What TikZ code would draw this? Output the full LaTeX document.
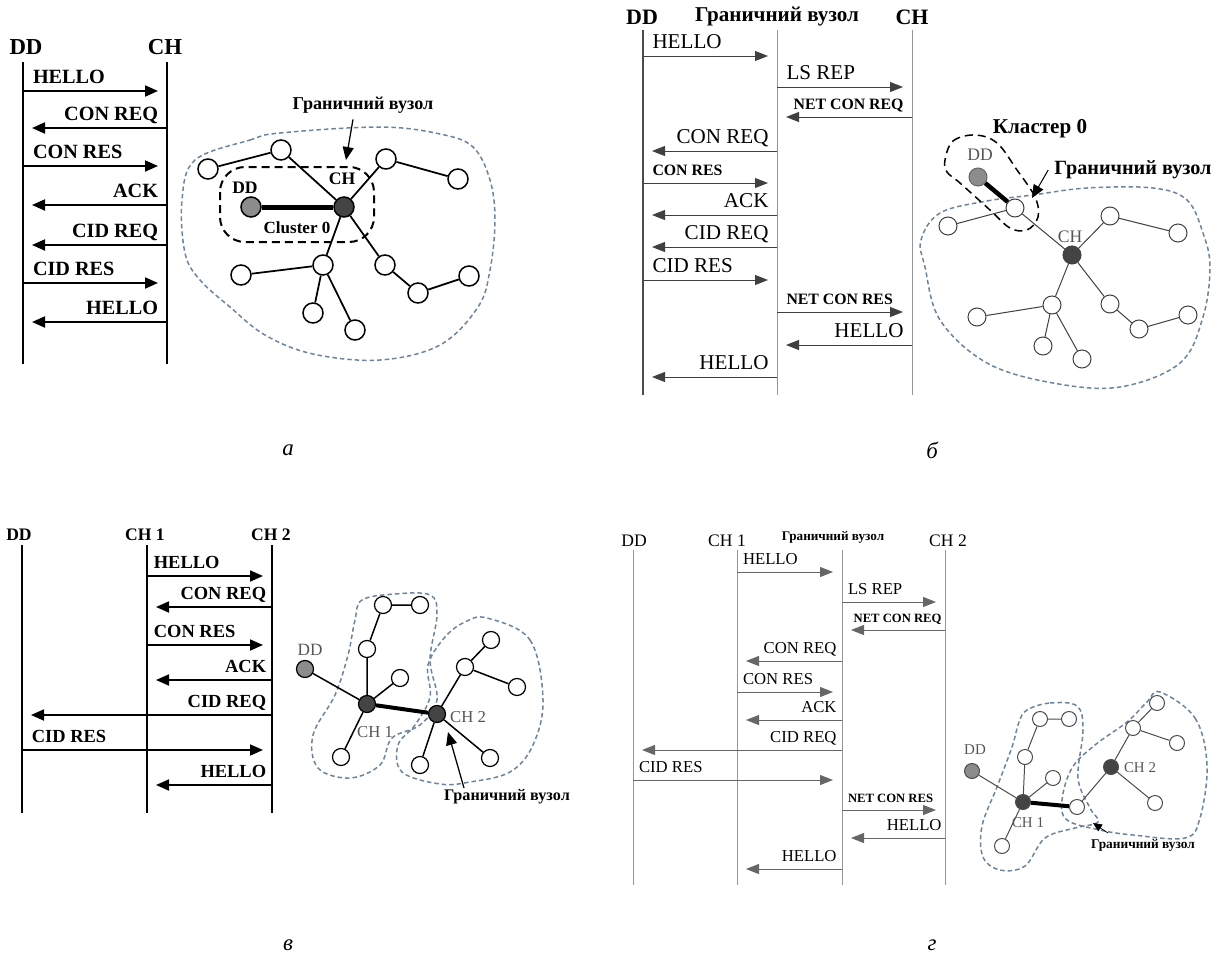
\documentclass[tikz,border=0pt]{standalone}
\usepackage{fontspec}
\setmainfont{Liberation Serif}
\usetikzlibrary{arrows.meta}

\definecolor{blobc}{RGB}{110,132,155}
\definecolor{ddfill}{RGB}{140,140,140}
\definecolor{chfill}{RGB}{68,68,68}
\definecolor{linegr}{RGB}{150,150,150}
\definecolor{txtgr}{RGB}{85,85,85}

\tikzset{
  lifeA/.style={line width=0.4mm},
  lifeB/.style={line width=0.2mm,linegr},
  msgA/.style={line width=0.4mm,-{Triangle[length=2.6mm,width=2.2mm]},shorten >=1.8mm},
  msgB/.style={line width=0.2mm,black!75,-{Triangle[length=2.6mm,width=2mm]},shorten >=1.8mm},
  lblR/.style={anchor=base west,inner sep=0,xshift=1.8mm,yshift=1.6mm,text=black},
  lblL/.style={anchor=base east,inner sep=0,xshift=-1.6mm,yshift=1.6mm,text=black},
  fA/.style={font=\fontsize{11.5}{13}\selectfont\bfseries},
  fHA/.style={font=\fontsize{13}{15}\selectfont\bfseries},
  fB/.style={font=\fontsize{12}{14}\selectfont},
  fBs/.style={font=\fontsize{9}{10}\selectfont\bfseries},
  fC/.style={font=\fontsize{10.5}{12}\selectfont\bfseries},
  fD/.style={font=\fontsize{9.5}{11}\selectfont},
  fDs/.style={font=\fontsize{7.2}{8}\selectfont\bfseries},
  vz/.style={circle,draw,fill=white,inner sep=0,minimum size=4mm,line width=0.3mm},
  vzB/.style={vz,minimum size=3.6mm,line width=0.2mm,draw=black!75},
  vzC/.style={vz,minimum size=3.4mm,line width=0.25mm},
  vzD/.style={vz,minimum size=3mm,line width=0.2mm,draw=black!70},
  blob/.style={blobc,line width=0.3mm,dash pattern=on 0.9mm off 0.6mm},
  clus/.style={line width=0.4mm,dash pattern=on 1.6mm off 1mm},
  ptr/.style={line width=0.25mm,-{Triangle[length=2.6mm,width=2.2mm]}},
  capt/.style={font=\fontsize{13}{15}\selectfont\itshape}
}

\begin{document}
\begin{tikzpicture}[x=0.2mm,y=-0.2mm]
  \useasboundingbox (0,0) rectangle (1225,955);

  % ----- а: sequence
  \node[fHA] (aDDh) at (26,47) {DD};
  \node[fHA] (aCHh) at (165,47) {CH};
  \coordinate (aDD) at (23,62);  \coordinate (aDDe) at (23,364);
  \coordinate (aCH) at (167,62); \coordinate (aCHe) at (167,364);
  \draw[lifeA] (aDD)--(aDDe) (aCH)--(aCHe);
  \foreach \y/\t in {91/HELLO,166/CON RES,283/CID RES}
    \draw[msgA] (aDD|-0,\y)--(aCH|-0,\y) node[at start,lblR,fA]{\t};
  \foreach \y/\t in {128/CON REQ,205/ACK,245/CID REQ,322/HELLO}
    \draw[msgA] (aCH|-0,\y)--(aDD|-0,\y) node[at start,lblL,fA]{\t};

  % ----- а: network
  \draw[blob] plot[smooth cycle,tension=0.6] coordinates {(195,160) (250,140) (280,133) (380,127) (440,134) (473,147) (490,180) (495,220) (490,270) (478,307) (440,345) (380,360) (313,354) (265,335) (230,307) (200,280) (185,253) (182,200)};
  \draw[clus,rounded corners=5mm] (220,167) rectangle (374,242);
  \node[vz,fill=ddfill] (aD) at (251,207) {};
  \node[vz,fill=chfill] (aC) at (344,207) {};
  \node[vz] (a1) at (208,169) {};
  \node[vz] (a2) at (281,150) {};
  \node[vz] (a3) at (386,159) {};
  \node[vz] (a4) at (458,179) {};
  \node[vz] (a5) at (323,265) {};
  \node[vz] (a6) at (241,275) {};
  \node[vz] (a7) at (385,265) {};
  \node[vz] (a8) at (418,293) {};
  \node[vz] (a9) at (469,276) {};
  \node[vz] (a10) at (313,313) {};
  \node[vz] (a11) at (355,330) {};
  \draw[line width=0.35mm] (a1)--(a2) (a2)--(aC) (aC)--(a3) (a3)--(a4) (aC)--(a5) (a5)--(a6)
    (a5)--(a10) (a5)--(a11) (aC)--(a7) (a7)--(a8) (a8)--(a9);
  \draw[line width=1mm] (aD)--(aC);
  \node[font=\fontsize{10}{12}\selectfont\bfseries] (aDl) at (245,188) {DD};
  \node[font=\fontsize{10}{12}\selectfont\bfseries] (aCl) at (342,179) {CH};
  \node[font=\fontsize{9.7}{11}\selectfont\bfseries] (aCll) at (297,228) {Cluster 0};
  \node[font=\fontsize{10.3}{12}\selectfont\bfseries] (aGr) at (363,105) {Граничний вузол};
  \coordinate (aGrt) at (346,160);
  \draw[ptr] (aGr.south)++(-2mm,0) coordinate (aGrs) (aGrs)--(aGrt);
  \node[capt] (capA) at (288,450) {а};

  % ----- б: sequence
  \node[font=\fontsize{12.5}{14}\selectfont\bfseries] (bDDh) at (642,17) {DD};
  \node[font=\fontsize{12}{14}\selectfont\bfseries] (bGRh) at (777,17) {Граничний вузол};
  \node[font=\fontsize{12.5}{14}\selectfont\bfseries] (bCHh) at (912,17) {CH};
  \coordinate (bDD) at (643,30); \coordinate (bDDe) at (643,395);
  \coordinate (bGR) at (777,30); \coordinate (bGRe) at (777,395);
  \coordinate (bCH) at (912,30); \coordinate (bCHe) at (912,395);
  \draw[line width=0.3mm,black!70] (bDD)--(bDDe);
  \draw[lifeB] (bGR)--(bGRe) (bCH)--(bCHe);
  \foreach \y/\t/\f in {56/HELLO/fB,183/CON RES/fBs,280/CID RES/fB}
    \draw[msgB] (bDD|-0,\y)--(bGR|-0,\y) node[at start,lblR,\f]{\t};
  \foreach \y/\t/\f in {87/LS REP/fB,312/NET CON RES/fBs}
    \draw[msgB] (bGR|-0,\y)--(bCH|-0,\y) node[at start,lblR,\f]{\t};
  \foreach \y/\t/\f in {117/NET CON REQ/fBs,345/HELLO/fB}
    \draw[msgB] (bCH|-0,\y)--(bGR|-0,\y) node[at start,lblL,\f]{\t};
  \foreach \y/\t/\f in {151/CON REQ/fB,215/ACK/fB,247/CID REQ/fB,377/HELLO/fB}
    \draw[msgB] (bGR|-0,\y)--(bDD|-0,\y) node[at start,lblL,\f]{\t};

  % ----- б: network
  \draw[blob] plot[smooth cycle,tension=0.6] coordinates {(940,213) (987,201) (1033,195) (1087,188) (1153,188) (1187,200) (1203,233) (1210,267) (1203,317) (1180,363) (1120,387) (1053,383) (987,363) (940,320) (925,267) (921,240)};
  \draw[clus,line width=0.3mm] plot[smooth cycle,tension=0.6] coordinates {(945,160) (953,141) (975,135) (997,143) (1017,170) (1035,197) (1038,217) (1027,230) (1010,228) (990,210) (960,183) (947,172)};
  \node[vzB,fill=ddfill,draw=black!60] (bD) at (978,177) {};
  \node[vzB] (bB) at (1015,208) {};
  \node[vzB,fill=chfill] (bC) at (1072,255) {};
  \node[vzB] (b1) at (948,226) {};
  \node[vzB] (b3) at (1110,216) {};
  \node[vzB] (b4) at (1178,233) {};
  \node[vzB] (b5) at (1052,305) {};
  \node[vzB] (b6) at (977,317) {};
  \node[vzB] (b7) at (1110,304) {};
  \node[vzB] (b8) at (1139,329) {};
  \node[vzB] (b9) at (1188,315) {};
  \node[vzB] (b10) at (1043,346) {};
  \node[vzB] (b11) at (1082,359) {};
  \draw[line width=0.2mm,black!75] (bB)--(b1) (bB)--(bC) (bC)--(b3) (b3)--(b4) (bC)--(b5) (b5)--(b6)
    (b5)--(b10) (b5)--(b11) (bC)--(b7) (b7)--(b8) (b8)--(b9);
  \draw[line width=0.9mm] (bD)--(bB);
  \node[font=\fontsize{12}{14}\selectfont\bfseries] (bCl) at (1040,129) {Кластер 0};
  \node[font=\fontsize{11.5}{13}\selectfont\bfseries] (bGr) at (1133,170) {Граничний вузол};
  \node[font=\fontsize{10}{12}\selectfont,txtgr] (bDl) at (980,155) {DD};
  \node[font=\fontsize{10}{12}\selectfont,txtgr] (bCHl) at (1070,237) {CH};
  \coordinate (bGrt) at (1032,198);
  \draw[ptr,line width=0.2mm] (bGr.west)--(bGrt);
  \node[capt] (capB) at (932,450) {б};

  % ----- в: sequence
  \node[font=\fontsize{10}{12}\selectfont\bfseries] (vDDh) at (19,535) {DD};
  \node[font=\fontsize{10}{12}\selectfont\bfseries] (vC1h) at (145,535) {CH 1};
  \node[font=\fontsize{10}{12}\selectfont\bfseries] (vC2h) at (271,535) {CH 2};
  \coordinate (vDD) at (22,545); \coordinate (vDDe) at (22,813);
  \coordinate (vC1) at (147,545); \coordinate (vC1e) at (147,813);
  \coordinate (vC2) at (272,545); \coordinate (vC2e) at (272,813);
  \draw[lifeA,line width=0.35mm] (vDD)--(vDDe) (vC1)--(vC1e) (vC2)--(vC2e);
  \foreach \y/\t in {576/HELLO,645/CON RES}
    \draw[msgA,line width=0.35mm] (vC1|-0,\y)--(vC2|-0,\y) node[at start,lblR,fC,xshift=-0.6mm]{\t};
  \draw[msgA,line width=0.35mm] (vDD|-0,750)--(vC2|-0,750) node[at start,lblR,fC]{CID RES};
  \foreach \y/\t in {607/CON REQ,680/ACK,785/HELLO}
    \draw[msgA,line width=0.35mm] (vC2|-0,\y)--(vC1|-0,\y) node[at start,lblL,fC,xshift=0.6mm]{\t};
  \draw[msgA,line width=0.35mm] (vC2|-0,715)--(vDD|-0,715) node[at start,lblL,fC,xshift=0.6mm]{CID REQ};

  % ----- в: network
  \draw[blob] plot[smooth cycle,tension=0.6] coordinates {(362,600) (395,594) (430,595) (437,615) (430,660) (437,700) (420,725) (392,738) (380,765) (350,778) (318,768) (313,735) (335,695) (348,655) (355,620)};
  \draw[blob] plot[smooth cycle,tension=0.6] coordinates {(487,618) (530,640) (543,700) (533,745) (510,772) (470,782) (440,784) (402,772) (398,745) (415,725) (430,697) (428,665) (445,637) (465,622)};
  \node[vzC,fill=ddfill] (vD) at (305,669) {};
  \node[vzC,fill=chfill] (vC1n) at (367,704) {};
  \node[vzC,fill=chfill] (vC2n) at (437,714) {};
  \node[vzC] (va1) at (383,605) {};
  \node[vzC] (va2) at (420,605) {};
  \node[vzC] (va3) at (367,649) {};
  \node[vzC] (va4) at (400,678) {};
  \node[vzC] (va5) at (341,757) {};
  \node[vzC] (vb1) at (491,640) {};
  \node[vzC] (vb2) at (465,667) {};
  \node[vzC] (vb3) at (517,687) {};
  \node[vzC] (vb4) at (490,758) {};
  \node[vzC] (vb5) at (420,765) {};
  \draw[line width=0.3mm] (va1)--(va2) (va1)--(va3) (va3)--(vC1n) (vD)--(vC1n) (vC1n)--(va4) (vC1n)--(va5)
    (vC2n)--(vb2) (vb2)--(vb1) (vb2)--(vb3) (vC2n)--(vb4) (vC2n)--(vb5);
  \draw[line width=0.8mm] (vC1n)--(vC2n);
  \node[font=\fontsize{9.8}{11}\selectfont,txtgr] (vDl) at (310,650) {DD};
  \node[font=\fontsize{9.5}{11}\selectfont,txtgr] (vC1l) at (375,732) {CH 1};
  \node[font=\fontsize{9.5}{11}\selectfont,txtgr] (vC2l) at (468,717) {CH 2};
  \node[font=\fontsize{9.2}{11}\selectfont\bfseries] (vGr) at (507,797) {Граничний вузол};
  \coordinate (vGrt) at (448,732);
  \draw[ptr,line width=0.25mm] (464,788) coordinate (vGrs) (vGrs)--(vGrt);
  \node[capt] (capV) at (288,945) {в};

  % ----- г: sequence
  \node[font=\fontsize{10}{12}\selectfont] (gDDh) at (634,541) {DD};
  \node[font=\fontsize{10}{12}\selectfont] (gC1h) at (727,541) {CH 1};
  \node[font=\fontsize{7.5}{9}\selectfont\bfseries] (gGRh) at (833,537) {Граничний вузол};
  \node[font=\fontsize{10}{12}\selectfont] (gC2h) at (948,541) {CH 2};
  \coordinate (gDD) at (633,550); \coordinate (gDDe) at (633,885);
  \coordinate (gC1) at (737,550); \coordinate (gC1e) at (737,885);
  \coordinate (gGR) at (842,550); \coordinate (gGRe) at (842,885);
  \coordinate (gC2) at (945,550); \coordinate (gC2e) at (945,885);
  \draw[lifeB] (gDD)--(gDDe) (gC1)--(gC1e) (gGR)--(gGRe) (gC2)--(gC2e);
  \foreach \y/\t in {572/HELLO,692/CON RES}
    \draw[msgB,black!60] (gC1|-0,\y)--(gGR|-0,\y) node[at start,lblR,fD,xshift=-0.7mm]{\t};
  \foreach \y/\t/\f in {602/LS REP/fD,810/NET CON RES/fDs}
    \draw[msgB,black!60] (gGR|-0,\y)--(gC2|-0,\y) node[at start,lblR,\f,xshift=-0.7mm]{\t};
  \draw[msgB,black!60] (gDD|-0,780)--(gGR|-0,780) node[at start,lblR,fD,xshift=-0.7mm]{CID RES};
  \foreach \y/\t/\f in {630/NET CON REQ/fDs,838/HELLO/fD}
    \draw[msgB,black!60] (gC2|-0,\y)--(gGR|-0,\y) node[at start,lblL,\f,xshift=1mm]{\t};
  \foreach \y/\t in {661/CON REQ,720/ACK,869/HELLO}
    \draw[msgB,black!60] (gGR|-0,\y)--(gC1|-0,\y) node[at start,lblL,fD,xshift=0.6mm]{\t};
  \draw[msgB,black!60] (gGR|-0,750)--(gDD|-0,750) node[at start,lblL,fD,xshift=0.6mm]{CID REQ};

  % ----- г: network
  \draw[blob] plot[smooth cycle,tension=0.6] coordinates {(1027,710) (1050,703) (1077,706) (1083,730) (1078,778) (1090,808) (1098,822) (1075,828) (1045,838) (1025,866) (1000,870) (983,857) (982,826) (997,787) (1012,747) (1019,722)};
  \draw[blob] plot[smooth cycle,tension=0.6] coordinates {(1160,692) (1195,718) (1207,765) (1200,818) (1185,838) (1133,835) (1100,830) (1067,820) (1062,800) (1072,768) (1095,745) (1127,722) (1147,702)};
  \node[vzD,fill=ddfill] (gD) at (972,771) {};
  \node[vzD,fill=chfill] (gC1n) at (1023,802) {};
  \node[vzD] (gB) at (1077,807) {};
  \node[vzD,fill=chfill] (gC2n) at (1111,767) {};
  \node[vzD] (ga1) at (1040,719) {};
  \node[vzD] (ga2) at (1069,719) {};
  \node[vzD] (ga3) at (1025,757) {};
  \node[vzD] (ga4) at (1053,778) {};
  \node[vzD] (ga5) at (1002,846) {};
  \node[vzD] (gb1) at (1157,703) {};
  \node[vzD] (gb2) at (1133,728) {};
  \node[vzD] (gb3) at (1177,743) {};
  \node[vzD] (gb4) at (1155,803) {};
  \draw[line width=0.2mm,black!70] (ga1)--(ga2) (ga1)--(ga3) (ga3)--(gC1n) (gD)--(gC1n) (gC1n)--(ga4) (gC1n)--(ga5)
    (gB)--(gC2n) (gC2n)--(gb2) (gb2)--(gb1) (gb2)--(gb3) (gC2n)--(gb4);
  \draw[line width=0.8mm] (gC1n)--(gB);
  \node[font=\fontsize{8.5}{10}\selectfont,txtgr] (gDl) at (975,750) {DD};
  \node[font=\fontsize{8.5}{10}\selectfont,txtgr] (gC1l) at (1028,823) {CH 1};
  \node[font=\fontsize{8.5}{10}\selectfont,txtgr] (gC2l) at (1140,768) {CH 2};
  \node[font=\fontsize{7.6}{9}\selectfont\bfseries] (gGr) at (1143,845) {Граничний вузол};
  \coordinate (gGrt) at (1093,823);
  \draw[ptr,line width=0.15mm,-{Triangle[length=1.8mm,width=1.6mm]}] (1108,833) coordinate (gGrs) (gGrs)--(gGrt);
  \node[capt] (capG) at (932,945) {г};
\end{tikzpicture}
\end{document}
